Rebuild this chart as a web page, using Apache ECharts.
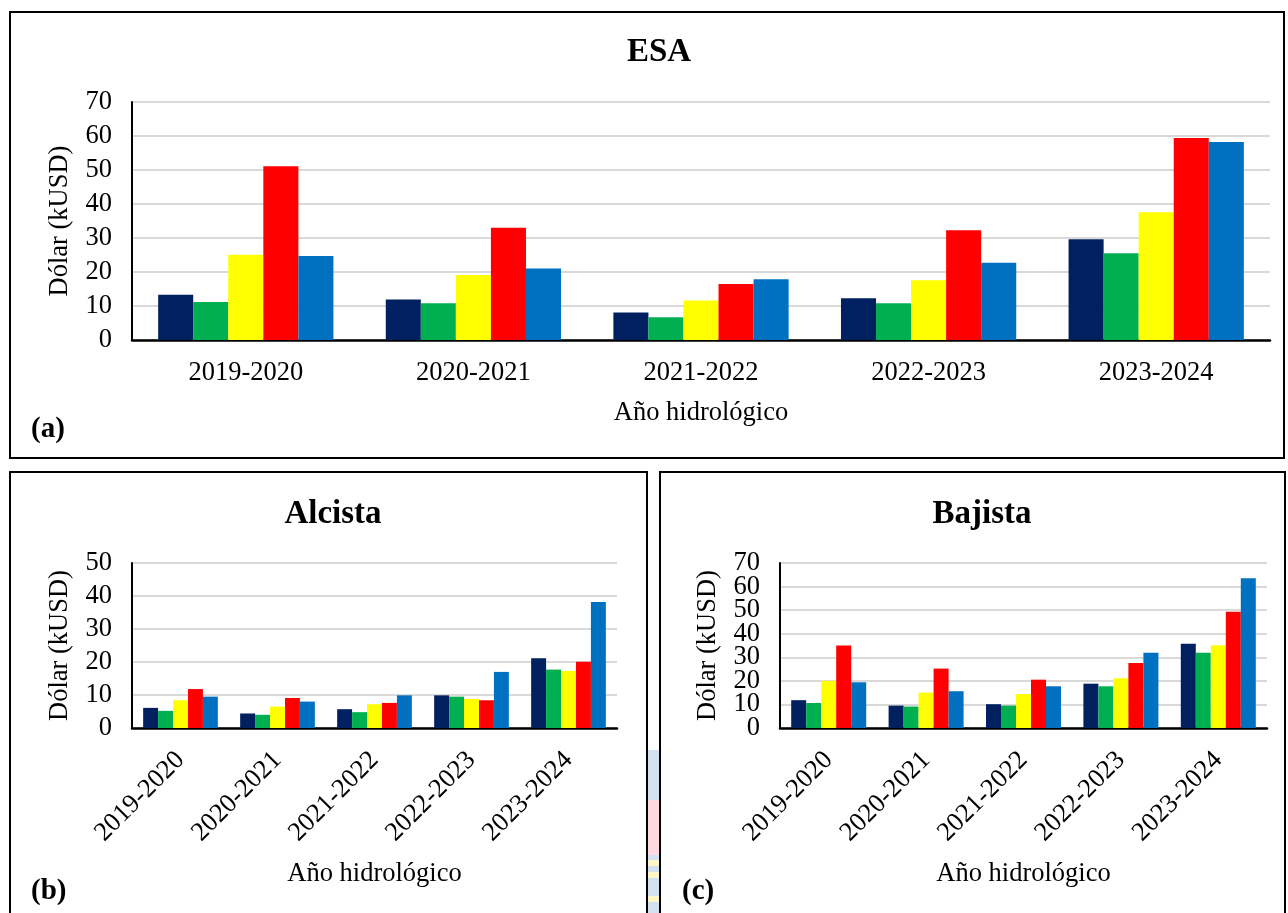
<!DOCTYPE html>
<html>
<head>
<meta charset="utf-8">
<script src="https://cdn.jsdelivr.net/npm/echarts@6/dist/echarts.min.js"></script>
<style>
  html, body { margin: 0; padding: 0; background: #fff; }
  #main { width: 1288px; height: 913px; }
</style>
</head>
<body>
<div id="main"></div>
<script>
'use strict';
var years = ['2019-2020', '2020-2021', '2021-2022', '2022-2023', '2023-2024'];
var colors = ['#002060', '#00B050', '#FFFF00', '#FF0000', '#0070C0'];

// ESA
var esaNavy = [13.3, 11.9, 8.1, 12.3, 29.6];
var esaGreen = [11.2, 10.8, 6.7, 10.8, 25.5];
var esaYellow = [25.1, 19.1, 11.6, 17.6, 37.6];
var esaRed = [51.1, 33.0, 16.5, 32.3, 59.4];
var esaBlue = [24.7, 21.0, 17.9, 22.7, 58.2];

// Alcista
var alcNavy = [6.1, 4.4, 5.7, 9.9, 21.1];
var alcGreen = [5.2, 4.0, 4.8, 9.5, 17.7];
var alcYellow = [8.4, 6.5, 7.2, 8.8, 17.3];
var alcRed = [11.8, 9.1, 7.6, 8.4, 20.1];
var alcBlue = [9.5, 8.0, 9.9, 17.0, 38.2];

// Bajista
var bajNavy = [11.8, 9.5, 10.1, 18.8, 35.7];
var bajGreen = [10.6, 9.1, 9.5, 17.7, 31.9];
var bajYellow = [20.0, 15.0, 14.4, 21.1, 35.1];
var bajRed = [35.0, 25.2, 20.5, 27.6, 49.3];
var bajBlue = [19.4, 15.6, 17.7, 31.9, 63.5];

// Bajista tick labels are tight, so they are split over two axes
var bajTicksEven = [0, 20, 40, 60];
var bajTicksOdd = [10, 30, 50, 70];

var font = 'Liberation Serif';
var fs = 26.5;
var chart = echarts.init(document.getElementById('main'));

function xAx(idx, rotate, nameGap, margin) {
    return {
        type: 'category', gridIndex: idx, data: years,
        name: 'Año hidrológico', nameLocation: 'middle', nameGap: nameGap,
        nameTextStyle: { fontFamily: font, fontSize: fs, color: '#000' },
        axisLine: { lineStyle: { color: '#000', width: 2.5 } },
        axisTick: { show: false },
        axisLabel: { fontFamily: font, fontSize: fs, color: '#000', rotate: rotate, margin: margin, interval: 0 }
    };
}
function yAx(idx, max, nameGap, ticks) {
    var ax = {
        type: 'value', gridIndex: idx, position: 'left', min: 0, max: max, interval: 10,
        name: 'Dólar (kUSD)', nameLocation: 'middle', nameGap: nameGap,
        nameTextStyle: { fontFamily: font, fontSize: fs, color: '#000' },
        axisLine: { show: true, lineStyle: { color: '#000', width: 2 } },
        axisTick: { show: false },
        splitLine: { lineStyle: { color: '#D9D9D9', width: 2 } },
        axisLabel: {
            fontFamily: font, fontSize: fs, color: '#000', margin: 20,
            showMinLabel: true, showMaxLabel: true
        }
    };
    if (ticks) ax.axisLabel.customValues = ticks;
    return ax;
}
function bars(idx, list) {
    return list.map(function(d, i) {
        return {
            type: 'bar', xAxisIndex: idx, yAxisIndex: idx, data: d,
            barGap: '0%', barCategoryGap: '23%',
            itemStyle: { color: colors[i] }, silent: true, animation: false
        };
    });
}

var extraY = yAx(2, 70, 58, bajTicksOdd);
extraY.name = '';
extraY.axisLine = { show: false };
extraY.splitLine = { show: false };

var titleStyle = { fontFamily: font, fontSize: 33, fontWeight: 'bold', color: '#000' };
var panelLbl = 'bold 29px "Liberation Serif"';

var option = {
    animation: false,
    title: [
        { text: 'ESA', left: 654, top: 31, textAlign: 'center', textStyle: titleStyle },
        { text: 'Alcista', left: 328, top: 493, textAlign: 'center', textStyle: titleStyle },
        { text: 'Bajista', left: 977, top: 493, textAlign: 'center', textStyle: titleStyle }
    ],
    grid: [
        { left: 132, top: 102, width: 1138, height: 238 },
        { left: 132, top: 563, width: 485, height: 165 },
        { left: 780, top: 563, width: 487, height: 165 }
    ],
    xAxis: [xAx(0, 0, 60, 20), xAx(1, 45, 133, 28), xAx(2, 45, 133, 28)],
    yAxis: [yAx(0, 70, 58), yAx(1, 50, 58), yAx(2, 70, 58, bajTicksEven), extraY],
    series: []
        .concat(bars(0, [esaNavy, esaGreen, esaYellow, esaRed, esaBlue]))
        .concat(bars(1, [alcNavy, alcGreen, alcYellow, alcRed, alcBlue]))
        .concat(bars(2, [bajNavy, bajGreen, bajYellow, bajRed, bajBlue])),
    graphic: [
        // faint watermark strip between the lower panels
        { type: 'rect', shape: { x: 648, y: 750, width: 11, height: 163 }, style: { fill: '#D3E0F0' } },
        { type: 'rect', shape: { x: 648, y: 800, width: 11, height: 55 }, style: { fill: '#FFD9E0' } },
        { type: 'rect', shape: { x: 648, y: 860, width: 11, height: 6 }, style: { fill: '#FFF6C8' } },
        { type: 'rect', shape: { x: 648, y: 872, width: 11, height: 6 }, style: { fill: '#FFF6C8' } },
        { type: 'rect', shape: { x: 648, y: 896, width: 11, height: 6 }, style: { fill: '#FFF6C8' } },
        { type: 'rect', shape: { x: 10, y: 12, width: 1274, height: 446 }, style: { fill: 'none', stroke: '#000', lineWidth: 2 } },
        { type: 'rect', shape: { x: 10, y: 472, width: 637, height: 450 }, style: { fill: 'none', stroke: '#000', lineWidth: 2 } },
        { type: 'rect', shape: { x: 660, y: 472, width: 625, height: 450 }, style: { fill: 'none', stroke: '#000', lineWidth: 2 } },
        { type: 'text', left: 31, top: 415, style: { text: '(a)', font: panelLbl, fill: '#000' } },
        { type: 'text', left: 31, top: 877, style: { text: '(b)', font: panelLbl, fill: '#000' } },
        { type: 'text', left: 682, top: 877, style: { text: '(c)', font: panelLbl, fill: '#000' } }
    ]
};
chart.setOption(option);
</script>
</body>
</html>
